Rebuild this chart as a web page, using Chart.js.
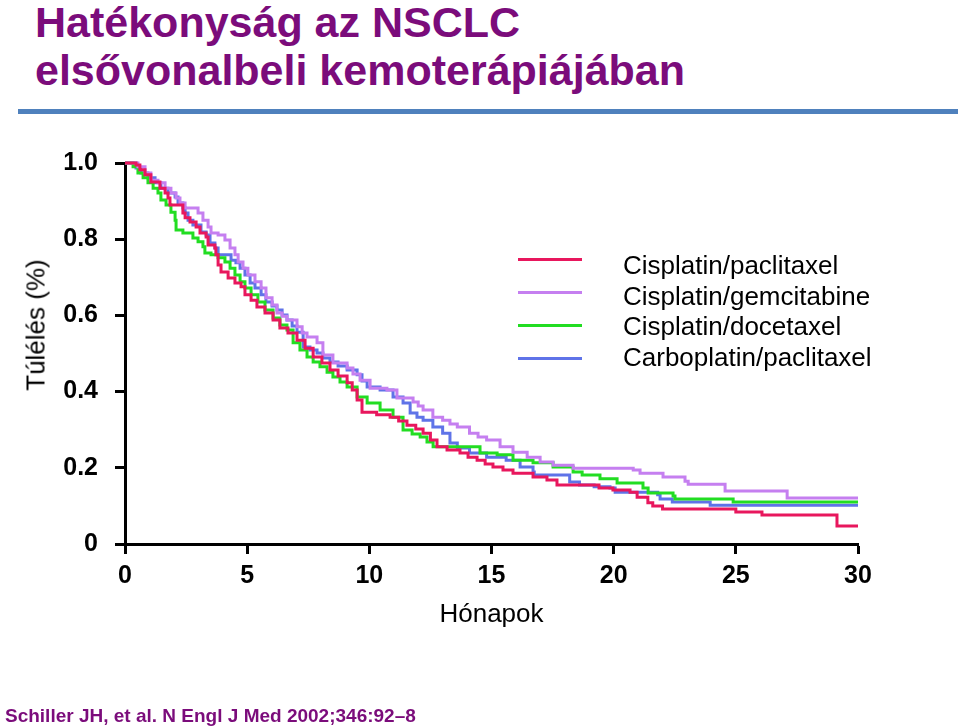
<!DOCTYPE html>
<html lang="hu">
<head>
<meta charset="utf-8">
<title>Hatékonyság az NSCLC elsővonalbeli kemoterápiájában</title>
<script src="https://cdn.jsdelivr.net/npm/chart.js@4.4.1/dist/chart.umd.min.js"></script>
<style>
    html, body { margin: 0; padding: 0; background: #fff; }
    body { width: 960px; height: 728px; position: relative; overflow: hidden; font-family: "Liberation Sans", Arial, sans-serif; }
    #kmChart { position: absolute; left: 0; top: 0; }
    .title { position: absolute; left: 35px; top: -2px; font-size: 43px; line-height: 48px; font-weight: bold; color: #7b0c7b; white-space: nowrap; }
    .rule { position: absolute; left: 18px; top: 109px; width: 940px; height: 5px; background: #4f81bd; }
    .ytitle { position: absolute; left: 36px; top: 325px; font-size: 26px; color: #000; white-space: nowrap; transform: translate(-50%, -50%) rotate(-90deg); }
    .cite { position: absolute; left: 5px; top: 706px; font-size: 19px; line-height: 19px; font-weight: bold; color: #7b0c7b; white-space: nowrap; }
    .lg-line { position: absolute; left: 518px; width: 64px; height: 3px; }
    .lg-text { position: absolute; left: 623px; font-size: 26px; line-height: 26px; color: #000; white-space: nowrap; }
</style>
</head>
<body>
<div class="title">Hatékonyság az NSCLC<br>elsővonalbeli kemoterápiájában</div>
<div class="rule"></div>
<canvas id="kmChart" width="960" height="728"></canvas>
<div class="ytitle">Túlélés (%)</div>
<div id="legend"></div>
<div class="cite">Schiller JH, et al. N Engl J Med 2002;346:92–8</div>

<script>
// series names (legend order)
const seriesLabels = ['Cisplatin/paclitaxel', 'Cisplatin/gemcitabine', 'Cisplatin/docetaxel', 'Carboplatin/paclitaxel'];
const seriesColors = ['#e8175d', '#c57ff0', '#22dd22', '#5f73e8'];

// Cisplatin/paclitaxel: months, survival
const cpMonths = [0, 0.45, 0.61, 0.82, 1.06, 1.43, 1.64, 1.76, 1.84, 2.37, 2.46, 2.66, 2.91, 3.07, 3.32, 3.40, 3.68, 3.72, 3.81, 3.93,
    4.22, 4.50, 4.75, 4.91, 5.16, 5.40, 5.73, 6.06, 6.34, 6.67, 7.04, 7.37, 7.70, 8.06, 8.39, 8.72, 9.09, 9.30, 9.50, 9.70,
    10.3, 10.85, 11.2, 11.54, 11.9, 12.2, 12.5, 12.77, 13.18, 13.71, 14.04, 14.41, 14.74, 15.06, 15.47, 15.88, 16.7, 17.27, 17.68,
    19.4, 19.97, 20.67, 20.96, 21.4, 21.6, 22.0, 25.0, 26.07, 29.14, 30];
const cpSurv = [1.0, 0.995, 0.982, 0.969, 0.950, 0.934, 0.921, 0.908, 0.890, 0.869, 0.856, 0.845, 0.832, 0.816, 0.806, 0.785, 0.777, 0.759, 0.732, 0.714,
    0.698, 0.685, 0.675, 0.654, 0.640, 0.622, 0.606, 0.588, 0.567, 0.554, 0.535, 0.514, 0.491, 0.475, 0.457, 0.441, 0.423, 0.404, 0.378, 0.346,
    0.339, 0.333, 0.323, 0.312, 0.302, 0.291, 0.273, 0.255, 0.247, 0.239, 0.228, 0.220, 0.210, 0.202, 0.194, 0.186, 0.176, 0.168, 0.155,
    0.147, 0.142, 0.136, 0.123, 0.108, 0.100, 0.092, 0.084, 0.076, 0.047, 0.047];

// Cisplatin/gemcitabine
const cgMonths = [0, 0.53, 0.82, 1.06, 1.35, 1.64, 1.88, 2.09, 2.25, 2.46, 2.99, 3.19, 3.40, 3.52, 3.81, 4.09, 4.30, 4.50, 4.63, 4.83,
    5.03, 5.32, 5.57, 5.77, 6.02, 6.22, 6.43, 6.63, 7.04, 7.25, 7.45, 7.86, 8.10, 8.51, 9.09, 9.33, 9.62, 10.03, 10.72, 11.13,
    11.79, 12.0, 12.2, 12.6, 13.0, 13.3, 13.6, 14.1, 14.45, 14.8, 15.35, 15.88, 16.46, 16.99, 17.52, 18.34, 20.8, 21.08, 22.02,
    22.92, 23.05, 24.56, 27.1, 30];
const cgSurv = [1.0, 0.990, 0.974, 0.955, 0.948, 0.934, 0.921, 0.908, 0.895, 0.882, 0.869, 0.850, 0.832, 0.816, 0.811, 0.798, 0.777, 0.759, 0.740, 0.724,
    0.706, 0.688, 0.672, 0.646, 0.627, 0.606, 0.598, 0.588, 0.570, 0.554, 0.543, 0.528, 0.496, 0.475, 0.462, 0.446, 0.430, 0.409, 0.404, 0.383,
    0.373, 0.362, 0.352, 0.333, 0.325, 0.315, 0.307, 0.291, 0.281, 0.273, 0.255, 0.241, 0.228, 0.215, 0.207, 0.199, 0.194, 0.186, 0.176,
    0.165, 0.157, 0.139, 0.121, 0.121];

// Cisplatin/docetaxel
const cdMonths = [0, 0.33, 0.53, 0.74, 0.94, 1.15, 1.35, 1.47, 1.68, 1.88, 2.05, 2.09, 2.37, 2.78, 2.99, 3.19, 3.27, 3.52, 3.81, 4.09,
    4.30, 4.50, 4.71, 4.91, 5.16, 5.44, 5.73, 6.06, 6.34, 6.63, 6.88, 7.16, 7.45, 7.70, 7.98, 8.27, 8.51, 8.80, 9.09, 9.50,
    9.91, 10.44, 10.97, 11.38, 11.75, 12.08, 12.36, 12.61, 14.53, 15.23, 15.88, 16.70, 17.52, 18.34, 18.71, 19.44, 20.14, 21.20, 21.41,
    22.43, 22.51, 24.89, 30];
const cdSurv = [1.0, 0.990, 0.974, 0.961, 0.948, 0.934, 0.921, 0.903, 0.890, 0.871, 0.850, 0.824, 0.816, 0.803, 0.793, 0.780, 0.764, 0.759, 0.751, 0.740,
    0.724, 0.706, 0.688, 0.672, 0.654, 0.635, 0.614, 0.593, 0.575, 0.562, 0.528, 0.509, 0.491, 0.478, 0.465, 0.451, 0.438, 0.425, 0.412, 0.386,
    0.370, 0.352, 0.333, 0.299, 0.289, 0.281, 0.268, 0.255, 0.239, 0.234, 0.220, 0.213, 0.202, 0.189, 0.181, 0.171, 0.160, 0.147, 0.134,
    0.126, 0.118, 0.110, 0.110];

// Carboplatin/paclitaxel
const kpMonths = [0, 0.45, 0.65, 0.94, 1.23, 1.47, 1.76, 2.05, 2.17, 2.37, 2.46, 2.58, 2.78, 3.11, 3.32, 3.48, 3.68, 3.81, 4.34, 4.54,
    4.71, 4.91, 5.12, 5.32, 5.57, 5.77, 6.02, 6.22, 6.43, 6.63, 6.84, 7.04, 7.29, 7.57, 7.86, 8.10, 8.39, 8.72, 9.09, 9.50,
    9.70, 9.91, 10.44, 10.97, 11.38, 11.67, 11.95, 12.2, 12.6, 13.0, 13.3, 13.6, 14.1, 14.8, 15.6, 16.17, 16.7, 16.75, 18.2,
    18.6, 19.2, 19.85, 20.06, 21.8, 21.9, 22.4, 23.95, 30];
const kpSurv = [1.0, 0.987, 0.974, 0.961, 0.948, 0.934, 0.921, 0.911, 0.895, 0.882, 0.869, 0.850, 0.837, 0.819, 0.811, 0.790, 0.777, 0.759, 0.745, 0.738,
    0.724, 0.706, 0.685, 0.672, 0.654, 0.635, 0.625, 0.614, 0.601, 0.588, 0.572, 0.556, 0.517, 0.509, 0.501, 0.488, 0.478, 0.467, 0.457, 0.444,
    0.428, 0.412, 0.404, 0.386, 0.370, 0.344, 0.333, 0.325, 0.307, 0.291, 0.265, 0.252, 0.239, 0.228, 0.220, 0.202, 0.189, 0.181, 0.163,
    0.155, 0.150, 0.147, 0.136, 0.129, 0.118, 0.110, 0.102, 0.102];

// axis ticks
const xTickStep = 5;
const yTickStep = 0.2;
const xTitle = 'Hónapok';

const seriesMonths = [cpMonths, cgMonths, cdMonths, kpMonths];
const seriesSurv = [cpSurv, cgSurv, cdSurv, kpSurv];

function toPoints(months, surv) {
    return months.map((m, i) => ({ x: m, y: surv[i] }));
}

// legend drawn as html next to the curves
function renderLegend() {
    const box = document.getElementById('legend');
    seriesLabels.forEach((label, i) => {
        const line = document.createElement('div');
        line.className = 'lg-line';
        line.style.top = (258 + i * 33) + 'px';
        line.style.background = seriesColors[i];
        box.appendChild(line);

        const text = document.createElement('div');
        text.className = 'lg-text';
        text.style.top = (252 + i * 30.7) + 'px';
        text.textContent = label;
        box.appendChild(text);
    });
}

const tickFont = { family: '"Liberation Sans", Arial, sans-serif', size: 25, weight: 'bold' };

const datasets = seriesLabels.map((label, i) => ({
    label: label,
    data: toPoints(seriesMonths[i], seriesSurv[i]),
    borderColor: seriesColors[i],
    backgroundColor: seriesColors[i],
    borderWidth: 3,
    stepped: true,
    pointRadius: 0,
    fill: false,
    clip: 4
}));

new Chart(document.getElementById('kmChart'), {
    type: 'line',
    data: { datasets: datasets },
    options: {
        responsive: false,
        animation: false,
        events: [],
        layout: { padding: { left: 0, top: 163, right: 102, bottom: 98 } },
        plugins: {
            legend: { display: false },
            tooltip: { enabled: false }
        },
        scales: {
            x: {
                type: 'linear',
                min: 0,
                max: 30,
                afterFit: (scale) => { scale.height = 86; },
                ticks: { stepSize: xTickStep, color: '#000', font: tickFont, padding: 7, maxRotation: 0 },
                grid: { drawOnChartArea: false, drawTicks: true, tickLength: 10, tickColor: '#000', tickWidth: 3 },
                border: { color: '#000', width: 3 },
                title: {
                    display: true,
                    text: xTitle,
                    color: '#000',
                    font: { family: '"Liberation Sans", Arial, sans-serif', size: 26 },
                    padding: { top: 0, bottom: 0 }
                }
            },
            y: {
                type: 'linear',
                min: 0,
                max: 1,
                afterFit: (scale) => { scale.width = 125; },
                ticks: {
                    stepSize: yTickStep,
                    color: '#000',
                    font: tickFont,
                    padding: 17,
                    callback: (v) => (v === 0 ? '0' : Number(v).toFixed(1))
                },
                grid: { drawOnChartArea: false, drawTicks: true, tickLength: 10, tickColor: '#000', tickWidth: 3 },
                border: { color: '#000', width: 3 }
            }
        }
    }
});

renderLegend();
</script>
</body>
</html>
